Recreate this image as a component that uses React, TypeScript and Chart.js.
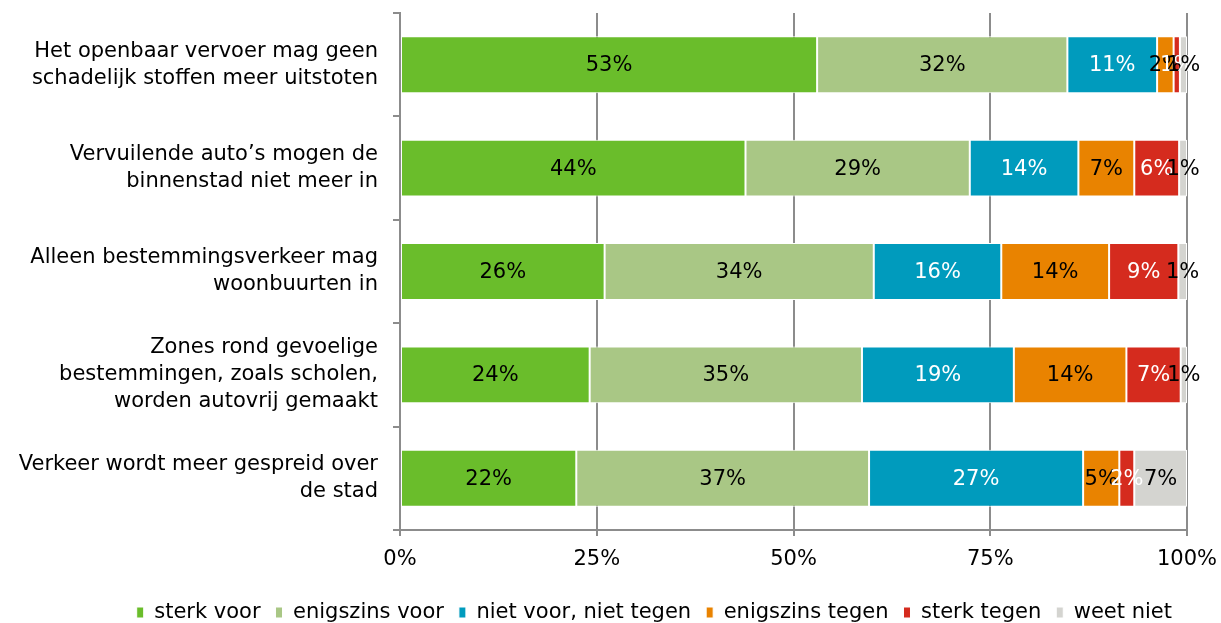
import React, { useEffect, useRef } from "react";
import { Chart, registerables } from "chart.js";

Chart.register(...registerables);

const categories: string[][] = [
  ["Het openbaar vervoer mag geen", "schadelijk stoffen meer uitstoten"],
  ["Vervuilende auto’s mogen de", "binnenstad niet meer in"],
  ["Alleen bestemmingsverkeer mag", "woonbuurten in"],
  ["Zones rond gevoelige", "bestemmingen, zoals scholen,", "worden autovrij gemaakt"],
  ["Verkeer wordt meer gespreid over", "de stad"],
];

const seriesNames = [
  "sterk voor",
  "enigszins voor",
  "niet voor, niet tegen",
  "enigszins tegen",
  "sterk tegen",
  "weet niet",
];

const sterkVoor = [53.0, 43.9, 26.0, 24.1, 22.4];
const enigszinsVoor = [31.8, 28.5, 34.2, 34.6, 37.2];
const nietVoorNietTegen = [11.4, 13.8, 16.2, 19.3, 27.2];
const enigszinsTegen = [2.1, 7.1, 13.7, 14.3, 4.6];
const sterkTegen = [0.8, 5.7, 8.8, 6.9, 1.9];
const weetNiet = [0.9, 1.0, 1.1, 0.8, 6.7];

const xTicks = [0, 25, 50, 75, 100];

const colors = ["#6abd2b", "#a9c785", "#009bbd", "#e98300", "#d52b1e", "#d4d4d0"];
const labelColors = ["#000", "#000", "#fff", "#000", "#fff", "#000"];

const FONT = "'DejaVu Sans', Verdana, sans-serif";
const FS = 21;

const dataLabelPlugin = {
  id: "dataLabels",
  afterDatasetsDraw(chart: any) {
    const ctx = chart.ctx;
    ctx.save();
    ctx.font = `${FS}px ${FONT}`;
    ctx.textAlign = "center";
    ctx.textBaseline = "middle";
    chart.data.datasets.forEach((ds: any, di: number) => {
      const meta = chart.getDatasetMeta(di);
      meta.data.forEach((bar: any, i: number) => {
        const v = ds.data[i];
        const cx = (bar.x + bar.base) / 2;
        ctx.fillStyle = labelColors[di];
        ctx.fillText(Math.round(v) + "%", cx, bar.y + 1);
      });
    });
    ctx.restore();
  },
};

export default function App() {
  const ref = useRef<HTMLCanvasElement | null>(null);
  useEffect(() => {
    if (!ref.current) return;
    const all = [sterkVoor, enigszinsVoor, nietVoorNietTegen, enigszinsTegen, sterkTegen, weetNiet];
    const chart = new Chart(ref.current, {
      type: "bar",
      data: {
        labels: categories,
        datasets: all.map((d, i) => ({
          label: seriesNames[i],
          data: d,
          backgroundColor: colors[i],
          borderColor: "#ffffff",
          borderWidth: 1,
          borderSkipped: false,
          barPercentage: 0.55,
          categoryPercentage: 1,
        })),
      },
      options: {
        indexAxis: "y",
        animation: false,
        responsive: true,
        maintainAspectRatio: false,
        layout: { padding: { top: 13, right: 34, left: 0, bottom: 0 } },
        plugins: {
          tooltip: { enabled: false },
          legend: {
            position: "bottom",
            align: "end",
            labels: {
              boxWidth: 7,
              boxHeight: 11,
              padding: 15,
              color: "#000",
              font: { family: FONT, size: FS },
            },
          },
        },
        scales: {
          x: {
            stacked: true,
            min: 0,
            max: 100,
            afterBuildTicks: (axis: any) => {
              axis.ticks = xTicks.map((v) => ({ value: v }));
            },
            afterFit: (axis: any) => {
              axis.height = 57;
              axis.paddingRight = 0;
              axis.paddingLeft = 0;
            },
            ticks: {
              callback: (v: any) => v + "%",
              color: "#000",
              font: { family: FONT, size: FS },
              padding: 11,
            },
            grid: {
              color: "#8c8c8c",
              lineWidth: 2,
              tickLength: 6,
            },
            border: { display: true, color: "#8c8c8c", width: 2 },
          },
          y: {
            stacked: true,
            afterFit: (axis: any) => {
              axis.width = 400;
              axis.paddingTop = 0;
              axis.paddingBottom = 0;
            },
            ticks: {
              color: "#000",
              font: { family: FONT, size: FS, lineHeight: 1.29 },
              padding: 15,
            },
            grid: {
              drawOnChartArea: false,
              color: "#8c8c8c",
              lineWidth: 2,
              tickLength: 7,
              offset: true,
            },
            border: { display: true, color: "#8c8c8c", width: 2 },
          },
        },
      },
      plugins: [dataLabelPlugin],
    });
    return () => chart.destroy();
  }, []);
  return (
    <div style={{ position: "absolute", left: 0, top: 0, width: 1221, height: 633 }}>
      <canvas ref={ref} />
    </div>
  );
}
